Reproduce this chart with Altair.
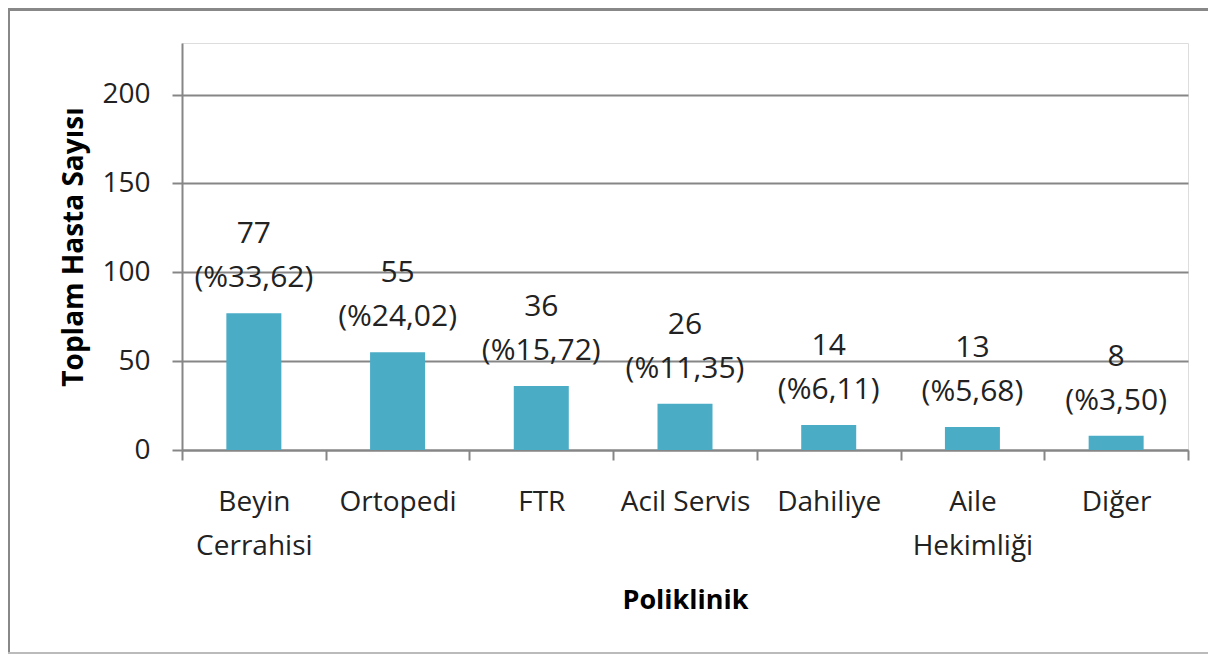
import altair as alt
import pandas as pd

categories = ["Beyin Cerrahisi", "Ortopedi", "FTR", "Acil Servis", "Dahiliye", "Aile Hekimliği", "Diğer"]
counts = [77, 55, 36, 26, 14, 13, 8]
percents = [33.62, 24.02, 15.72, 11.35, 6.11, 5.68, 3.50]
y_ticks = [0, 50, 100, 150, 200]

df = pd.DataFrame({
    "Poliklinik": categories,
    "Hasta": counts,
    "Yuzde": ["(%" + f"{p:.2f}".replace(".", ",") + ")" for p in percents],
})

FONT = "Open Sans"
GRID = "#868686"
TXT = "#222222"
W, H = 1006, 407
PAD_L, PAD_T, PAD_R, PAD_B = 174, 35, 20, 204

label_expr = ("datum.label == 'Beyin Cerrahisi' ? ['Beyin', 'Cerrahisi'] : "
              "datum.label == 'Aile Hekimliği' ? ['Aile', 'Hekimliği'] : datum.label")

x_scale = alt.Scale(paddingInner=0, paddingOuter=0)

x_enc = alt.X("Poliklinik:N", sort=categories, scale=x_scale,
              axis=alt.Axis(title="Poliklinik", labelAngle=0, labelExpr=label_expr,
                            tickBand="extent", tickSize=10, tickColor=GRID, tickWidth=2,
                            domainColor=GRID, domainWidth=2,
                            labelFont=FONT, labelFontSize=28, labelColor=TXT,
                            labelLineHeight=44, labelBaseline="alphabetic", labelPadding=50,
                            titleFont=FONT, titleFontSize=27, titleFontWeight="bold", titleColor="#000000",
                            titleX=W / 2, titleY=158, titleBaseline="alphabetic", titleAlign="center"))

y_enc = alt.Y("Hasta:Q", scale=alt.Scale(domain=[0, 229], nice=False),
              axis=alt.Axis(title="Toplam Hasta Sayısı", values=y_ticks, grid=True,
                            gridColor=GRID, gridWidth=2, domainColor=GRID, domainWidth=2,
                            tickColor=GRID, tickWidth=2, tickSize=10, labelPadding=22,
                            labelFont=FONT, labelFontSize=28, labelColor=TXT,
                            titleFont=FONT, titleFontSize=28, titleFontWeight="bold", titleColor="#000000",
                            titleAngle=270, titleX=-100, titleY=H / 2,
                            titleBaseline="alphabetic", titleAlign="center"))

base = alt.Chart(df)

bars = base.mark_bar(color="#4BACC6", size=55).encode(x=x_enc, y=y_enc)

val_text = base.mark_text(font=FONT, fontSize=30, color=TXT, baseline="alphabetic", dy=-70).encode(
    x=alt.X("Poliklinik:N", sort=categories, scale=x_scale), y="Hasta:Q", text="Hasta:Q")
pct_text = base.mark_text(font=FONT, fontSize=30, color=TXT, baseline="alphabetic", dy=-26).encode(
    x=alt.X("Poliklinik:N", sort=categories, scale=x_scale), y="Hasta:Q", text="Yuzde:N")

frame_df = pd.DataFrame({"k": [0]})
left_border = alt.Chart(frame_df).mark_rule(color="#888888", strokeWidth=2).encode(
    x=alt.value(-PAD_L + 1), y=alt.value(-PAD_T), y2=alt.value(H + PAD_B))
top_border = alt.Chart(frame_df).mark_rule(color="#888888", strokeWidth=3).encode(
    x=alt.value(-PAD_L), x2=alt.value(W + PAD_R), y=alt.value(-PAD_T + 1.5))
bottom_border = alt.Chart(frame_df).mark_rule(color="#bbbbbb", strokeWidth=2).encode(
    x=alt.value(-PAD_L), x2=alt.value(W + PAD_R), y=alt.value(H + PAD_B - 1))

chart = alt.layer(bars, val_text, pct_text, left_border, top_border, bottom_border).properties(
    width=W, height=H,
    autosize=alt.AutoSizeParams(type="none"),
    padding={"left": PAD_L, "top": PAD_T, "right": PAD_R, "bottom": PAD_B},
).configure_view(stroke=None).configure(background="white")

chart.save("out.html", embed_options={"renderer": "svg", "actions": False})
